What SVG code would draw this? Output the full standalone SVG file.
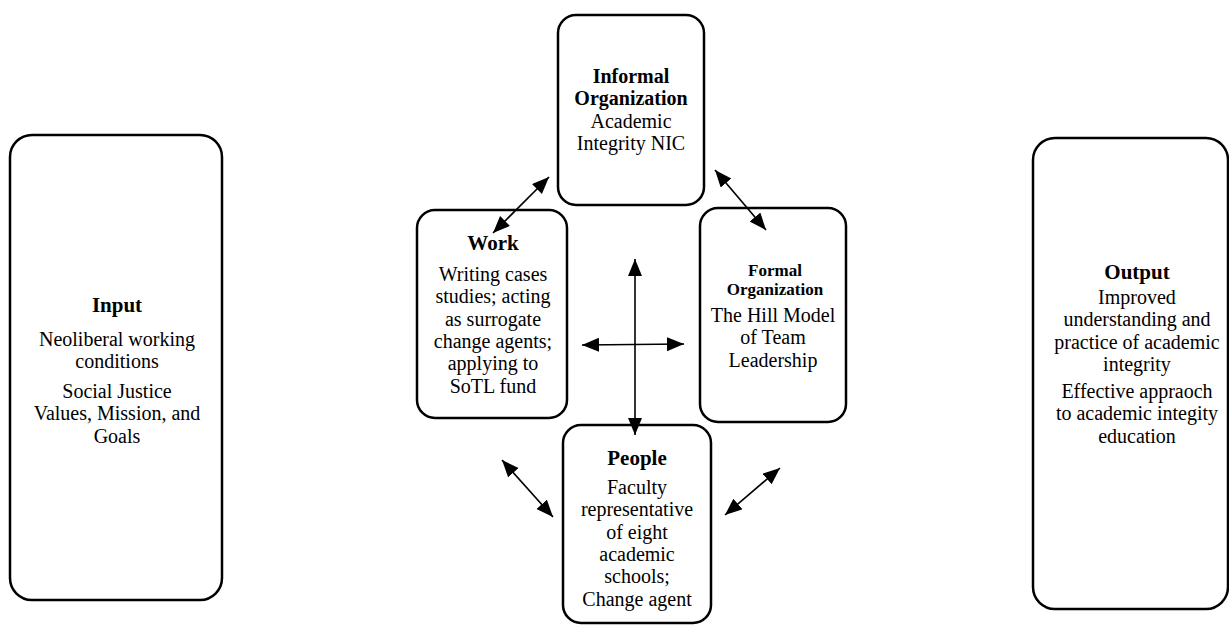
<svg xmlns="http://www.w3.org/2000/svg" width="1229" height="626" viewBox="0 0 1229 626">
<style>
.box{fill:#fff;stroke:#000;stroke-width:2.5}
text{font-family:"Liberation Serif","Times New Roman",serif;font-size:20px;fill:#000;text-anchor:middle}
.b{font-weight:bold;font-size:21px}
.mb{font-weight:bold;font-size:20px}
.sb{font-weight:bold;font-size:17px}
.c line{stroke:#000;stroke-width:1.6}
</style>
<defs>
<marker id="ah" markerUnits="userSpaceOnUse" markerWidth="18" markerHeight="15" refX="17" refY="7" orient="auto-start-reverse">
<path d="M0,0 L17,7 L0,14 Z" fill="#000"/>
</marker>
</defs>
<g id="input">
<rect class="box" x="10" y="135" width="212" height="465" rx="22"/>
<text class="b" x="117" y="312">Input</text>
<text x="117" y="346">Neoliberal working</text>
<text x="117" y="368.3">conditions</text>
<text x="117" y="398">Social Justice</text>
<text x="117" y="420.3">Values, Mission, and</text>
<text x="117" y="442.6">Goals</text>
</g>
<g id="informal">
<rect class="box" x="558" y="15" width="146" height="190" rx="18"/>
<text class="mb" x="631" y="83">Informal</text>
<text class="mb" x="631" y="105.3">Organization</text>
<text x="631" y="127.6">Academic</text>
<text x="631" y="149.9">Integrity NIC</text>
</g>
<g id="work">
<rect class="box" x="417" y="210" width="150" height="208" rx="18"/>
<text class="b" x="493" y="250">Work</text>
<text x="493" y="281">Writing cases</text>
<text x="493" y="303.3">studies; acting</text>
<text x="493" y="325.6">as surrogate</text>
<text x="493" y="347.9">change agents;</text>
<text x="493" y="370.2">applying to</text>
<text x="493" y="392.5">SoTL fund</text>
</g>
<g id="formal">
<rect class="box" x="700" y="208" width="146" height="214" rx="18"/>
<text class="sb" x="775" y="276">Formal</text>
<text class="sb" x="775" y="295">Organization</text>
<text x="773" y="322">The Hill Model</text>
<text x="773" y="344.3">of Team</text>
<text x="773" y="366.6">Leadership</text>
</g>
<g id="people">
<rect class="box" x="563" y="425" width="148" height="198" rx="18"/>
<text class="b" x="637" y="465">People</text>
<text x="637" y="494">Faculty</text>
<text x="637" y="516.3">representative</text>
<text x="637" y="538.6">of eight</text>
<text x="637" y="560.9">academic</text>
<text x="637" y="583.2">schools;</text>
<text x="637" y="605.5">Change agent</text>
</g>
<g id="output">
<rect class="box" x="1033" y="138" width="195" height="471" rx="22"/>
<text class="b" x="1137" y="279">Output</text>
<text x="1137" y="304">Improved</text>
<text x="1137" y="326.3">understanding and</text>
<text x="1137" y="348.6">practice of academic</text>
<text x="1137" y="370.9">integrity</text>
<text x="1137" y="398">Effective appraoch</text>
<text x="1137" y="420.3">to academic integity</text>
<text x="1137" y="442.6">education</text>
</g>
<g id="connectors" class="c">
<line x1="635" y1="435" x2="635" y2="259" marker-start="url(#ah)" marker-end="url(#ah)"/>
<line x1="582" y1="345" x2="684" y2="344" marker-start="url(#ah)" marker-end="url(#ah)"/>
<line x1="493" y1="233" x2="549" y2="177" marker-start="url(#ah)" marker-end="url(#ah)"/>
<line x1="715" y1="170" x2="766" y2="230" marker-start="url(#ah)" marker-end="url(#ah)"/>
<line x1="502" y1="460" x2="553" y2="517" marker-start="url(#ah)" marker-end="url(#ah)"/>
<line x1="725" y1="515" x2="780" y2="468" marker-start="url(#ah)" marker-end="url(#ah)"/>
</g>
</svg>
